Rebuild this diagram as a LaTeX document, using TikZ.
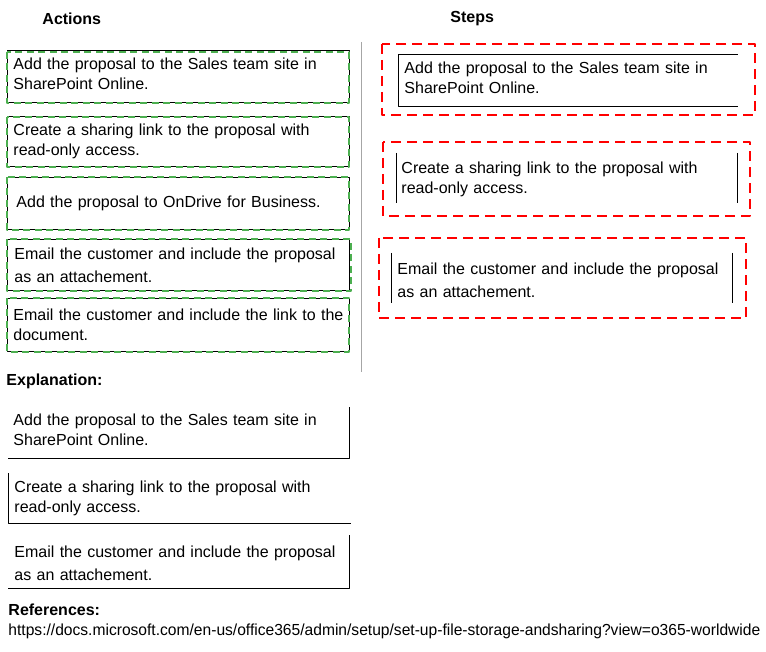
\documentclass[tikz,border=0pt]{standalone}
\usepackage{fontspec}
\setmainfont{Liberation Sans}
\usetikzlibrary{positioning}
\definecolor{dashgreen}{RGB}{76,175,80}
\definecolor{dashred}{RGB}{255,0,0}
\begin{document}
\begin{tikzpicture}[x=1pt,y=-1pt, line width=0.9pt, line join = round, font=\fontsize{16}{20}\selectfont]
            \tikzset{head/.style={anchor=west, inner sep=0pt, font=\fontsize{16}{20}\selectfont\bfseries},
              card/.style={rectangle, anchor=north west, inner xsep=6pt, inner ysep=0pt, align=left, text width=330pt},
              tall/.style={font=\fontsize{16}{23}\selectfont},
              greenline/.style={dashgreen, line width=2.6pt, dash pattern=on 7pt off 4.5pt},
              redline/.style={dashred, line width=2.4pt, dash pattern=on 10pt off 6pt}}
            \useasboundingbox (0,0) rectangle (766,652);
            % headings
            \node[head] (actions) at (42,19) {Actions};
            \node[head] (steps) at (450,19) {Steps};
            \draw[gray!70] (361,42) -- (361,372);
            % actions
            \node[card, draw, minimum height=52pt, text depth=26pt] (act1) at (7,50) {Add the proposal to the Sales team site in\\SharePoint Online.};
            \node[card, draw, minimum height=50pt] (act2) at (7,116) {Create a sharing link to the proposal with\\read-only access.};
            \node[card, draw, minimum height=52pt, inner xsep=9pt, text width=324pt] (act3) at (7,177) {Add the proposal to OnDrive for Business.};
            \node[card, draw, tall, minimum height=51pt, inner xsep=7pt, text width=328pt] (act4) at (7,239) {Email the customer and include the proposal\\as an attachement.};
            \node[card, draw, minimum height=53pt] (act5) at (7,298) {Email the customer and include the link to the\\document.};
            \draw[greenline] ([yshift=-2pt]act1.north west) rectangle ([xshift=-1pt]act1.south east);
            \draw[greenline] ([yshift=-1pt]act2.north west) rectangle ([xshift=-1pt]act2.south east);
            \draw[greenline] (act3.north west) rectangle ([xshift=-1pt]act3.south east);
            \draw[greenline] (act4.north west) rectangle ([xshift=1pt]act4.south east);
            \draw[greenline] (act5.north west) rectangle ([xshift=-1pt]act5.south east);
            % steps
            \draw[redline] (382,44) rectangle (755,115);
            \draw[redline] (383,142) rectangle (750,216);
            \draw[redline] (379,238) rectangle (746,318);
            \node[card, minimum height=52pt, text width=327pt, text depth=26pt] (step1) at (398,54) {Add the proposal to the Sales team site in\\SharePoint Online.};
            \node[card, minimum height=49pt, inner xsep=5pt, text width=331pt, text depth=19.6pt] (step2) at (396,153) {Create a sharing link to the proposal with\\read-only access.};
            \node[card, tall, minimum height=49pt, text width=329pt, text depth=19pt] (step3) at (391,253) {Email the customer and include the proposal\\as an attachement.};
            \draw (step1.north east) -- (step1.north west) -- (step1.south west) -- (step1.south east);
            \draw (step2.north west) -- (step2.south west);
            \draw (step2.north east) -- (step2.south east);
            \draw (step3.north west) -- (step3.south west);
            \draw (step3.north east) -- (step3.south east);
            % explanation
            \node[head] (expl) at (6,381) {Explanation:};
            \node[card, minimum height=51pt, inner xsep=5pt, text width=331pt, text depth=26pt] (expl1) at (8,407) {Add the proposal to the Sales team site in\\SharePoint Online.};
            \node[card, minimum height=50pt] (expl2) at (8,473) {Create a sharing link to the proposal with\\read-only access.};
            \node[card, tall, minimum height=53pt, text width=329pt, text depth=21pt] (expl3) at (8,535) {Email the customer and include the proposal\\as an attachement.};
            \draw (expl1.north east) -- (expl1.south east) -- (expl1.south west);
            \draw (expl2.north west) -- (expl2.south west) -- (expl2.south east);
            \draw (expl3.north east) -- (expl3.south east) -- (expl3.south west);
            % references
            \node[head] (refs) at (8,610) {References:};
            \node[anchor=west, inner sep=0pt, xscale=0.975] (url) at (8,631) {https://docs.microsoft.com/en-us/office365/admin/setup/set-up-file-storage-andsharing?view=o365-worldwide};
\end{tikzpicture}
\end{document}
